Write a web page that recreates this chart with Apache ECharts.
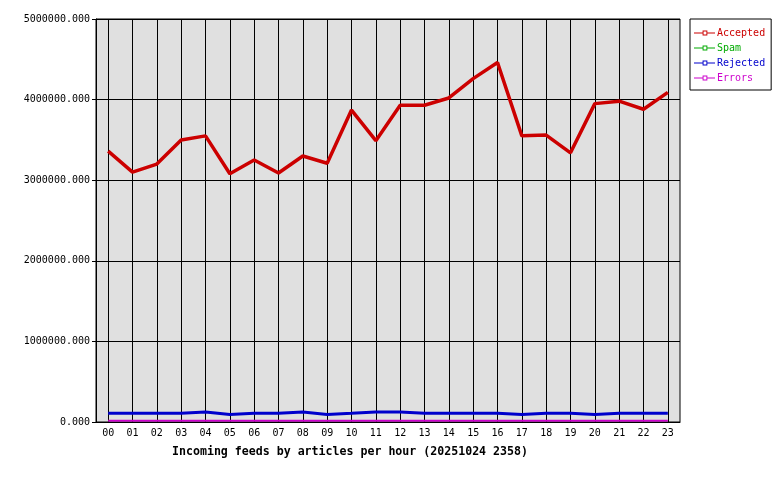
<!DOCTYPE html>
<html><head><meta charset="utf-8">
<script src="https://cdn.jsdelivr.net/npm/echarts@6/dist/echarts.min.js"></script>
<style>html,body{margin:0;padding:0;background:#fff}#c{width:780px;height:480px}</style>
</head><body><div id="c"></div>
<script>
const hours = ['00','01','02','03','04','05','06','07','08','09','10','11','12','13','14','15','16','17','18','19','20','21','22','23'];
const accepted = [3360000,3100000,3200000,3500000,3550000,3080000,3250000,3090000,3300000,3210000,3870000,3490000,3930000,3930000,4020000,4260000,4460000,3550000,3560000,3340000,3950000,3980000,3880000,4090000];
const spam = [0,0,0,0,0,0,0,0,0,0,0,0,0,0,0,0,0,0,0,0,0,0,0,0];
const rejected = [108000,108000,108000,108000,125000,92000,108000,108000,125000,92000,108000,125000,125000,108000,108000,108000,108000,92000,108000,108000,92000,108000,108000,108000];
const errors = [15000,15000,15000,15000,15000,15000,15000,15000,15000,15000,15000,15000,15000,15000,15000,15000,15000,15000,15000,15000,15000,15000,15000,15000];
const yTicks = {min:0, max:5000000, interval:1000000};
const titleText = 'Incoming feeds by articles per hour (20251024 2358)';

const FONT = 'DejaVu Sans Mono';
const icon = 'path://M0,2h9v1h-9z M14,2h8v1h-8z M9,0h5v5h-5z M10,1v3h3v-3z';
const chart = echarts.init(document.getElementById('c'), null, {renderer:'canvas'});
chart.setOption({
  animation:false,
  backgroundColor:'#ffffff',
  title:{text:titleText, left:167, top:441, textStyle:{fontFamily:FONT, fontSize:11.6, fontWeight:'bold', color:'#000'}},
  legend:{
    orient:'vertical', left:690, top:19, icon:icon, itemWidth:21, itemHeight:5, itemGap:3,
    padding:[8,6,6,4], borderColor:'#000', borderWidth:1, backgroundColor:'#fff',
    textStyle:{fontFamily:FONT, fontSize:10, lineHeight:12, padding:[0,0,0,-3]},
    data:[
      {name:'Accepted', textStyle:{color:'#cc0000'}},
      {name:'Spam', textStyle:{color:'#00aa00'}},
      {name:'Rejected', textStyle:{color:'#0000cc'}},
      {name:'Errors', textStyle:{color:'#cc00cc'}}
    ]
  },
  grid:{left:96, right:100, top:19, bottom:58, show:true, backgroundColor:'#e0e0e0', borderColor:'#000', borderWidth:1},
  xAxis:{
    type:'category', data:hours, boundaryGap:true, z:3,
    axisLine:{lineStyle:{color:'#000'}},
    axisTick:{alignWithLabel:true, length:4, lineStyle:{color:'#000'}},
    axisLabel:{fontFamily:FONT, fontSize:10, color:'#000', margin:6},
    splitLine:{show:true, alignWithLabel:true, lineStyle:{color:'#000', width:1}}
  },
  yAxis:{
    type:'value', min:yTicks.min, max:yTicks.max, interval:yTicks.interval,
    axisLine:{show:true, lineStyle:{color:'#000'}},
    axisTick:{show:true, length:4, lineStyle:{color:'#000'}},
    axisLabel:{fontFamily:FONT, fontSize:10, color:'#000', margin:6, formatter:v=>v.toFixed(3)},
    splitLine:{show:true, lineStyle:{color:'#000', width:1}}
  },
  series:[
    {name:'Accepted', type:'line', z:5, data:accepted, symbol:'none', color:'#cc0000', lineStyle:{width:3.5, color:'#cc0000'}},
    {name:'Spam', type:'line', z:2, data:spam, symbol:'none', color:'#00aa00', lineStyle:{width:1, color:'#00aa00'}},
    {name:'Rejected', type:'line', z:4, data:rejected, symbol:'none', color:'#0000cc', lineStyle:{width:3, color:'#0000cc'}},
    {name:'Errors', type:'line', z:6, data:errors, symbol:'none', color:'#cc00cc', lineStyle:{width:2, color:'#cc00cc'}}
  ]
});
</script></body></html>
